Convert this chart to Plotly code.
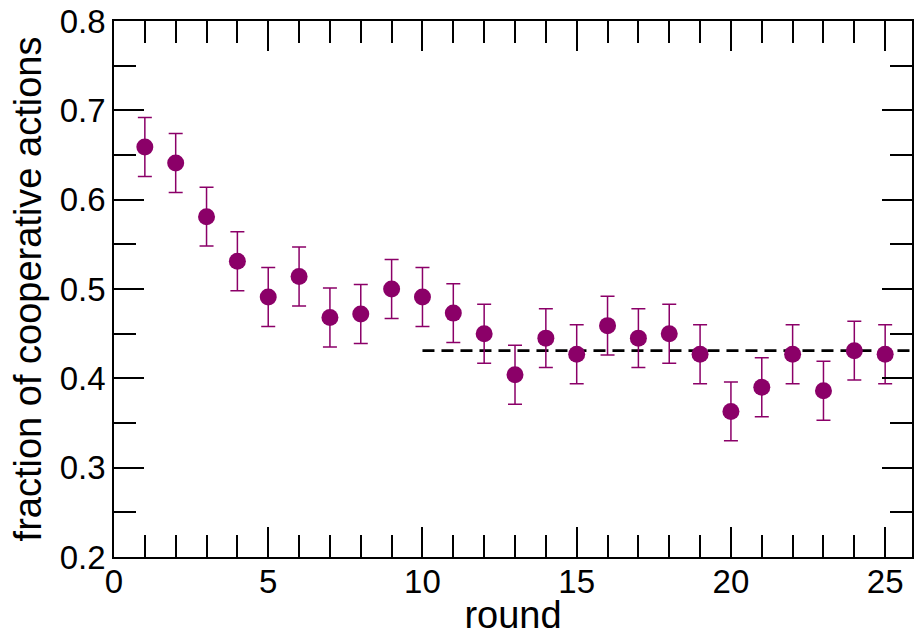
import plotly.graph_objects as go

# per-round fraction of cooperative actions with standard errors
rounds = list(range(1, 26))
coop = [0.659, 0.641, 0.581, 0.531, 0.491, 0.514, 0.468, 0.472, 0.500, 0.491,
        0.473, 0.450, 0.404, 0.445, 0.427, 0.459, 0.445, 0.450, 0.427, 0.363,
        0.390, 0.427, 0.386, 0.431, 0.427]
err = [0.033] * 25

# stationary level from round 10 onward
plateau_x = [10, 26]
plateau_level = 0.431

purple = "#8b0068"
font_family = "Liberation Sans, Arial, Helvetica, sans-serif"

fig = go.Figure()
fig.add_trace(go.Scatter(
    x=plateau_x, y=[plateau_level, plateau_level], mode="lines",
    line=dict(color="black", width=2.6, dash="12px,7px"),
    hoverinfo="skip", showlegend=False,
))
fig.add_trace(go.Scatter(
    x=rounds, y=coop, mode="markers",
    marker=dict(color=purple, size=17, line=dict(width=0)),
    error_y=dict(type="data", array=err, visible=True,
                 color=purple, thickness=1.5, width=7),
    showlegend=False,
))

axis_common = dict(
    showline=True, linecolor="black", linewidth=1.5,
    mirror="allticks", ticks="inside", ticklen=30, tickwidth=1.5,
    tickcolor="black", showgrid=False, zeroline=False,
    tickfont=dict(family=font_family, size=33, color="black"),
)

fig.update_xaxes(
    range=[0, 25.87], tick0=0, dtick=5, ticklabelstandoff=-5,
    minor=dict(dtick=1, ticks="inside", ticklen=22, tickwidth=1.5,
               tickcolor="black", showgrid=False),
    title=dict(text="round", font=dict(family=font_family, size=38, color="black"),
               standoff=7),
    **axis_common,
)
fig.update_yaxes(
    range=[0.2, 0.8], tick0=0.2, dtick=0.1, tickformat=".1f",
    minor=dict(dtick=0.05, ticks="inside", ticklen=22, tickwidth=1.5,
               tickcolor="black", showgrid=False),
    title=dict(text="fraction of cooperative actions",
               font=dict(family=font_family, size=38, color="black"),
               standoff=6),
    **axis_common,
)

fig.update_layout(
    width=914, height=636,
    margin=dict(l=114, r=0, t=21, b=79),
    paper_bgcolor="white", plot_bgcolor="white",
)

fig.write_html("out.html")
